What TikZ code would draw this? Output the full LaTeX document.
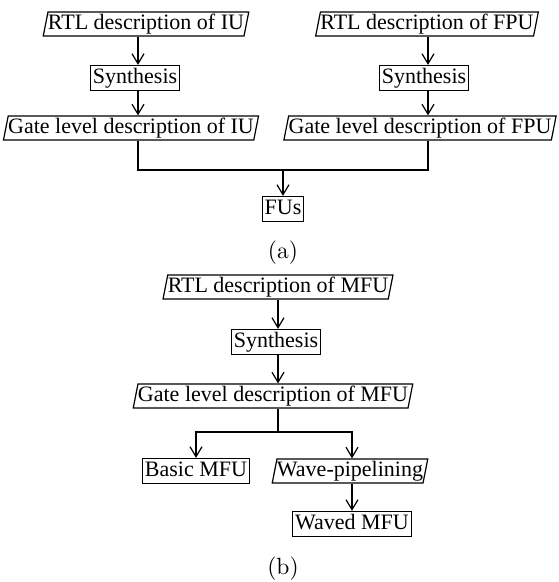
\documentclass[tikz,border=0pt]{standalone}
\usepackage{fontspec}
\setmainfont{Liberation Serif}
\newfontfamily\capfont{lmroman10-regular}[Extension=.otf]
\usetikzlibrary{shapes.geometric,arrows.meta}

\tikzset{
  every node/.style={font=\fontsize{22}{25}\selectfont},
  procbox/.style={draw, line width=1.2pt, rectangle, inner xsep=2.5pt, inner ysep=0pt,
    minimum height=25pt, text height=15.5pt, text depth=5pt},
  iobox/.style={draw, line width=1.2pt, trapezium, trapezium stretches=true,
    trapezium left angle=77, trapezium right angle=103, inner xsep=0pt, inner ysep=0pt,
    minimum height=24pt, text height=15.5pt, text depth=5pt},
  flow/.style={line width=1.2pt},
  arr/.style={flow, -{Straight Barb[length=10pt,width=12pt,line width=1.2pt]}},
  caption/.style={font=\capfont\fontsize{23.5}{26}\selectfont},
}

\begin{document}
\begin{tikzpicture}[x=1pt,y=-1pt]
  \useasboundingbox (0,0) rectangle (558,582);

  % column guides
  \coordinate (c1) at (138,0);
  \coordinate (c2) at (428,0);
  \coordinate (c3) at (278,0);
  \coordinate (c5) at (352,0);

  % (a) IU and FPU flows
  \node[iobox]   (rtliu)   at (146,24)  {RTL description of IU};
  \node[procbox] (syn1)    at (135,78)  {Synthesis};
  \node[iobox]   (gateiu)  at (131,128) {Gate level description of IU};

  \node[iobox]   (rtlfpu)  at (427,24)  {RTL description of FPU};
  \node[procbox] (syn2)    at (424,78)  {Synthesis};
  \node[iobox]   (gatefpu) at (420,128) {Gate level description of FPU};

  \node[procbox] (fus)     at (283,209) {FUs};
  \node[caption] (capa)    at (283,252.5) {(a)};

  \coordinate (ja) at (283,170);

  \draw[arr] (rtliu.south -| c1) -- (syn1.north -| c1);
  \draw[arr] (syn1.south -| c1) -- (gateiu.north -| c1);
  \draw[arr] (rtlfpu.south -| c2) -- (syn2.north -| c2);
  \draw[arr] (syn2.south -| c2) -- (gatefpu.north -| c2);
  \draw[flow] (gateiu.south -| c1) |- (ja) -| (gatefpu.south -| c2);
  \draw[arr] (ja) -- (fus.north);

  % (b) MFU flow
  \node[iobox]   (rtlmfu)  at (278,287) {RTL description of MFU};
  \node[procbox] (syn3)    at (276,342) {Synthesis};
  \node[iobox]   (gatemfu) at (273,396) {Gate level description of MFU};
  \node[procbox] (basic)   at (196,471) {Basic MFU};
  \node[iobox]   (wave)    at (350,471) {Wave-pipelining};
  \node[procbox] (waved)   at (352,524) {Waved MFU};
  \node[caption] (capb)    at (283,569) {(b)};

  \coordinate (jb) at (278,432);

  \draw[arr] (rtlmfu.south -| c3) -- (syn3.north -| c3);
  \draw[arr] (syn3.south -| c3) -- (gatemfu.north -| c3);
  \draw[flow] (gatemfu.south -| c3) -- (jb);
  \draw[arr] (jb) -| (basic.north);
  \draw[arr] (jb) -| (wave.north -| c5);
  \draw[arr] (wave.south -| c5) -- (waved.north -| c5);
\end{tikzpicture}
\end{document}
